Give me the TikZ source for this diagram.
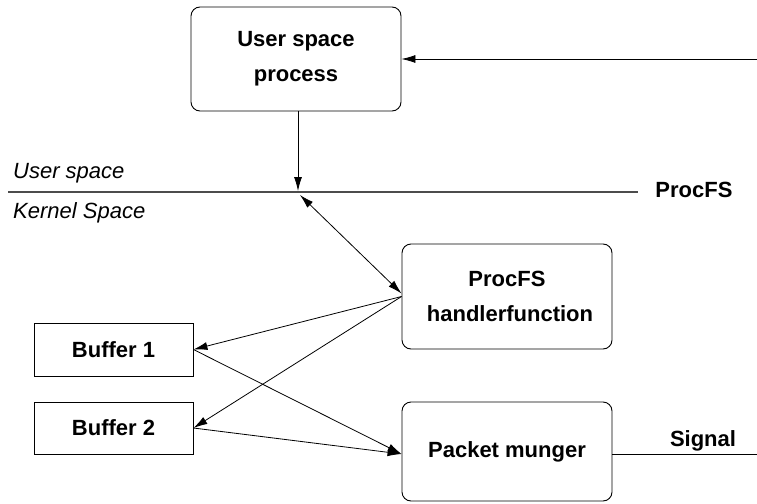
\documentclass[tikz,border=0pt]{standalone}
\usepackage{fontspec}
\setmainfont{Liberation Sans}
\usetikzlibrary{arrows.meta,calc}
\begin{document}
\begin{tikzpicture}[x=1pt,y=-1pt,
  every node/.style={font=\fontsize{22}{35}\selectfont\bfseries},
  roundbox/.style={draw,rounded corners=9pt,line width=0.9pt,align=center,
    minimum width=210pt,inner sep=0pt},
  bufbox/.style={draw,line width=0.9pt,minimum width=159pt,inner sep=0pt},
  conn/.style={line width=0.8pt,-{Latex[length=14pt,width=8pt]}},
  itlabel/.style={font=\fontsize{22}{26}\selectfont\itshape,anchor=base west,inner sep=0pt},
  plainlabel/.style={anchor=base,inner sep=0pt}]
\useasboundingbox (0,0) rectangle (757,503);

% processing blocks
\node[roundbox,minimum height=104pt] (usp) at (296,59) {User space\\process};
\node[roundbox,minimum height=105pt] (handler) at (507,296.5) {ProcFS\hspace{14pt}\\\hspace{6pt}handlerfunction};
\node[roundbox,minimum height=99pt] (munger) at (507,451.5) {Packet munger};
\node[bufbox,minimum height=53pt] (buf1) at (113.5,349.5) {Buffer 1};
\node[bufbox,minimum height=52pt] (buf2) at (113.5,428) {Buffer 2};

% user/kernel boundary
\coordinate (divL) at (8,192);
\coordinate (divR) at (638,192);
\draw[line width=1.2pt,black!70] (divL) -- (divR);
\node[plainlabel] (procfs) at (694,197) {ProcFS};
\node[itlabel] (ulabel) at (13,178) {User space};
\node[itlabel] (klabel) at (13,218) {Kernel Space};

% connector end points
\coordinate (cross) at (298,191);
\coordinate (crossk) at (300,195);
\coordinate (ext) at (757,59);
\coordinate (sigend) at (757,454);

% connectors
\draw[conn] (ext) -- (usp.east);
\draw[conn] (usp.south -| cross) -- (cross);
\draw[conn,{Latex[length=14pt,width=8pt]}-{Latex[length=14pt,width=8pt]}] (crossk) -- ($(handler.west)+(0,-3)$);
\draw[conn] (handler.west) -- (buf1.east);
\draw[conn] (handler.west) -- (buf2.east);
\draw[conn] (buf1.east) -- ($(munger.west)+(0,2.5)$);
\draw[conn] (buf2.east) -- ($(munger.west)+(0,2.5)$);
\draw[line width=0.8pt] (munger.east |- sigend) -- (sigend);
\node[plainlabel] (signal) at (703,446) {Signal};
\end{tikzpicture}
\end{document}
